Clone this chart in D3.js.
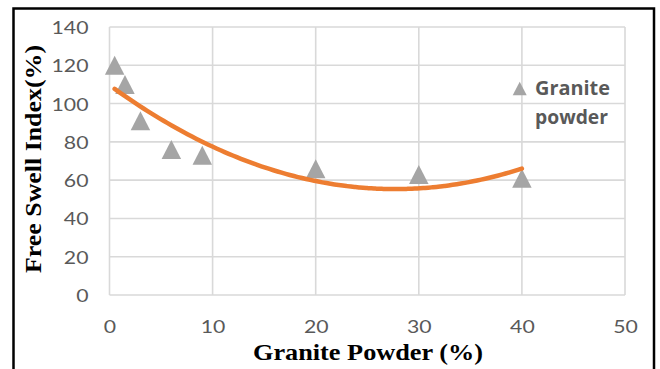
<!DOCTYPE html>
<html>
<head>
<meta charset="utf-8">
<script src="https://cdn.jsdelivr.net/npm/d3@7"></script>
<style>
  html, body { margin: 0; padding: 0; background: #fff; }
  svg { display: block; }
</style>
</head>
<body>
<svg id="chart" width="660" height="369"></svg>
<script>
// Granite powder content (%) and measured free swell index (%)
const granitePct = [0.5, 1.5, 3, 6, 9, 20, 30, 40];
const freeSwell = [120, 110, 91, 76, 73, 66, 63, 61];
const xTicks = [0, 10, 20, 30, 40, 50];
const yTicks = [0, 20, 40, 60, 80, 100, 120, 140];
const seriesName = ["Granite", "powder"];

const svg = d3.select("#chart");

// outer frame
svg.append("rect")
  .attr("x", 13.5).attr("y", 8.5)
  .attr("width", 640.5).attr("height", 380)
  .attr("fill", "none").attr("stroke", "#000").attr("stroke-width", 2.5);

const plot = { left: 109.5, right: 625, top: 27, bottom: 295 };
const x = d3.scaleLinear().domain([0, 50]).range([plot.left, plot.right]);
const y = d3.scaleLinear().domain([0, 140]).range([plot.bottom, plot.top]);

// gridlines
const grid = svg.append("g").attr("stroke", "#d9d9d9").attr("stroke-width", 1.6);
grid.selectAll("line.h").data(yTicks).join("line")
  .attr("x1", plot.left).attr("x2", plot.right)
  .attr("y1", d => y(d)).attr("y2", d => y(d));
grid.selectAll("line.v").data(xTicks).join("line")
  .attr("y1", plot.top).attr("y2", plot.bottom)
  .attr("x1", d => x(d)).attr("x2", d => x(d));

// tick labels via d3 axes (no tick marks or domain line)
const tickFont = "Lato, 'Open Sans', sans-serif";
const stretch = 1.18;
const yAxis = svg.append("g")
  .attr("transform", "translate(88.5,0)")
  .call(d3.axisLeft(y).tickValues(yTicks).tickSize(0));
const xAxis = svg.append("g")
  .attr("transform", "translate(0,333)")
  .call(d3.axisBottom(x).tickValues(xTicks).tickSize(0));
[yAxis, xAxis].forEach(a => {
  a.select(".domain").remove();
  a.selectAll("text")
    .attr("fill", "#595959")
    .attr("x", 0).attr("y", 0).attr("dy", null)
    .attr("transform", `scale(${stretch},1)`)
    .style("font-family", tickFont)
    .style("font-size", "18px");
});
yAxis.selectAll("text").attr("dy", "0.36em");

// quadratic least-squares trendline
function polyFit2(xs, ys) {
  const n = xs.length;
  const s = [0, 0, 0, 0, 0], t = [0, 0, 0];
  for (let i = 0; i < n; i++) {
    let p = 1;
    for (let k = 0; k <= 4; k++) { s[k] += p; if (k <= 2) t[k] += p * ys[i]; p *= xs[i]; }
  }
  const A = [[s[0], s[1], s[2], t[0]], [s[1], s[2], s[3], t[1]], [s[2], s[3], s[4], t[2]]];
  for (let c = 0; c < 3; c++) {
    for (let r = c + 1; r < 3; r++) {
      const f = A[r][c] / A[c][c];
      for (let k = c; k < 4; k++) A[r][k] -= f * A[c][k];
    }
  }
  const b = [0, 0, 0];
  for (let r = 2; r >= 0; r--) {
    let v = A[r][3];
    for (let k = r + 1; k < 3; k++) v -= A[r][k] * b[k];
    b[r] = v / A[r][r];
  }
  return b;
}
const coef = polyFit2(granitePct, freeSwell);
const xMin = d3.min(granitePct), xMax = d3.max(granitePct);
const trend = d3.range(0, 101).map(i => {
  const xv = xMin + (xMax - xMin) * i / 100;
  return [xv, coef[0] + coef[1] * xv + coef[2] * xv * xv];
});

// triangle marker symbol: width w, height h, centred on the point
function triangleSymbol(w, h) {
  return {
    draw(ctx) {
      ctx.moveTo(0, -h / 2);
      ctx.lineTo(w / 2, h / 2);
      ctx.lineTo(-w / 2, h / 2);
      ctx.closePath();
    }
  };
}

svg.append("g").selectAll("path").data(granitePct).join("path")
  .attr("d", d3.symbol().type(triangleSymbol(19.5, 19)))
  .attr("transform", (d, i) => `translate(${x(d)},${y(freeSwell[i])})`)
  .attr("fill", "#a5a5a5");

svg.append("path")
  .datum(trend)
  .attr("d", d3.line().x(d => x(d[0])).y(d => y(d[1])).curve(d3.curveMonotoneX))
  .attr("fill", "none").attr("stroke", "#ed7d31")
  .attr("stroke-width", 4.5).attr("stroke-linecap", "round");

// legend
const lg = svg.append("g");
lg.append("path").attr("d", d3.symbol().type(triangleSymbol(14, 13.5)))
  .attr("transform", "translate(519.7,88.5)").attr("fill", "#a5a5a5");
lg.selectAll("text").data(seriesName).join("text")
  .attr("x", 535).attr("y", (d, i) => 95 + i * 29)
  .attr("fill", "#595959")
  .attr("textLength", (d, i) => [75, 73][i])
  .attr("lengthAdjust", "spacingAndGlyphs")
  .style("font-family", "'Open Sans', Lato, sans-serif")
  .style("font-weight", "bold").style("font-size", "19px")
  .text(d => d);

// axis titles
const titleFont = "'Liberation Serif', 'Times New Roman', serif";
svg.append("text")
  .attr("x", 253).attr("y", 360)
  .attr("textLength", 230).attr("lengthAdjust", "spacingAndGlyphs")
  .style("font-family", titleFont)
  .style("font-weight", "bold").style("font-size", "24px")
  .text("Granite Powder (%)");
svg.append("text")
  .attr("transform", "translate(40.5,273) rotate(-90)")
  .attr("textLength", 228).attr("lengthAdjust", "spacingAndGlyphs")
  .style("font-family", titleFont)
  .style("font-weight", "bold").style("font-size", "24px")
  .text("Free Swell Index(%)");
</script>
</body>
</html>
